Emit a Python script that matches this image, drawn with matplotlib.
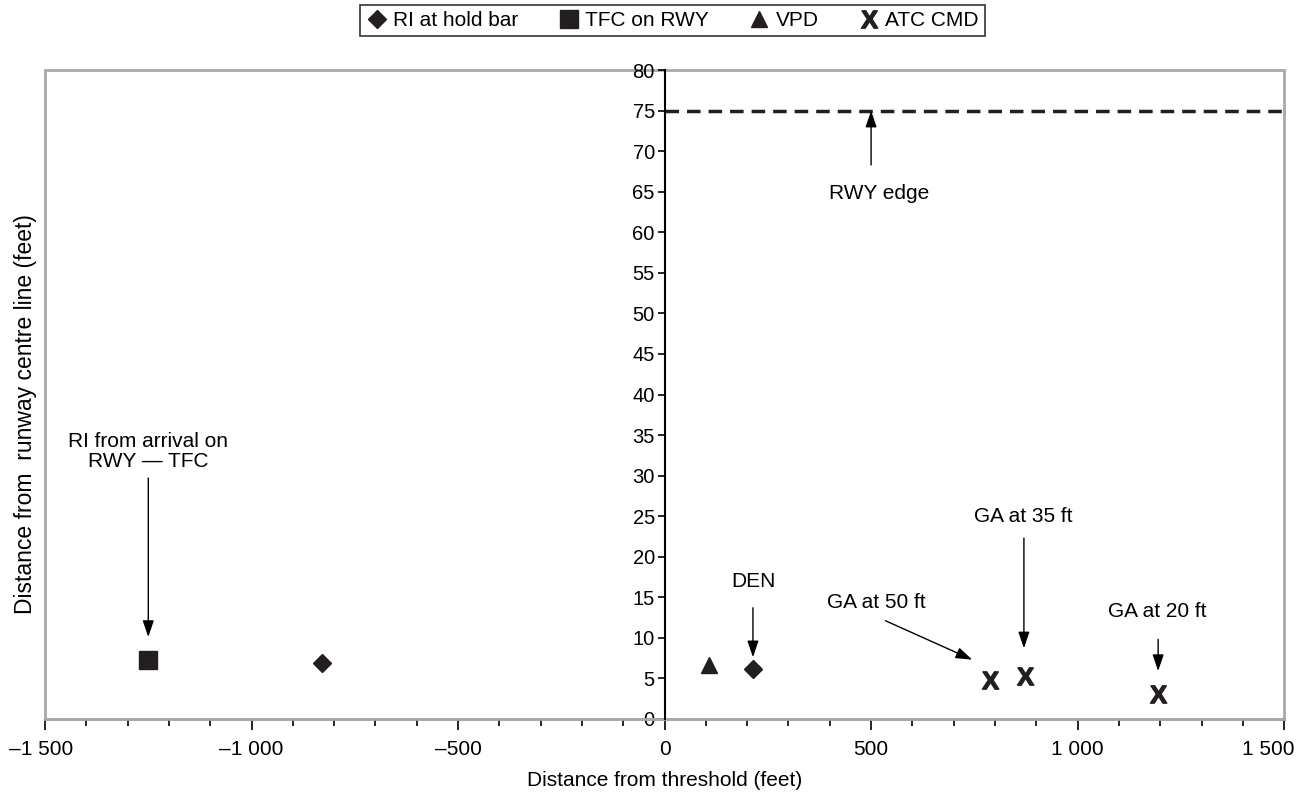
import matplotlib
matplotlib.use('Agg')
import matplotlib.pyplot as plt
from matplotlib.patches import Rectangle
from matplotlib.textpath import TextPath
from matplotlib.font_manager import FontProperties
from matplotlib.path import Path
from matplotlib.transforms import ScaledTranslation

plt.rcParams['font.family'] = ['Liberation Sans', 'DejaVu Sans']

# data
hold_x = [-830, 214]
hold_y = [6.9, 6.2]
tfc_x = [-1250]
tfc_y = [7.3]
vpd_x = [107]
vpd_y = [6.6]
atc_x = [787, 872, 1195]
atc_y = [4.8, 5.3, 3.1]

xticks = [-1500, -1000, -500, 0, 500, 1000, 1500]
xtick_labels = ['\u20131 500', '\u20131 000', '\u2013500', '0', '500', '1 000', '1 500']
yticks = list(range(0, 81, 5))

ink = '#231f20'

# "X" glyph used as a marker
tp = TextPath((0, 0), 'X', size=10,
              prop=FontProperties(family=['Liberation Sans Narrow', 'Liberation Sans'], weight='bold'))
v = tp.vertices.copy()
v[:, 0] -= (v[:, 0].min() + v[:, 0].max()) / 2
v[:, 1] -= (v[:, 1].min() + v[:, 1].max()) / 2
x_marker = Path(v, tp.codes)

fig = plt.figure(figsize=(13.05, 7.97), dpi=100)
ax = fig.add_axes([0.0345, 0.098, 0.9495, 0.814])

ax.plot(hold_x, hold_y, 'D', color=ink, ms=8.8, ls='none', label='RI at hold bar')
ax.plot(tfc_x, tfc_y, 's', color=ink, ms=12.5, ls='none', label='TFC on RWY')
ax.plot(vpd_x, vpd_y, '^', color=ink, ms=12, ls='none', label='VPD')
ax.plot(atc_x, atc_y, marker=x_marker, color=ink, ms=12.5, ls='none', label='ATC CMD')

# runway edge
ax.plot([0, 1500], [75, 75], color=ink, lw=2.5, dashes=(3.9, 2.3))

ax.set_xlim(-1500, 1500)
ax.set_ylim(0, 80)

# axes: y axis at x = 0, grey frame round the plot
for s in ['top', 'right']:
    ax.spines[s].set_visible(False)
ax.spines['left'].set_position(('data', 0))
ax.spines['left'].set_color('black')
ax.spines['left'].set_linewidth(1.5)
ax.spines['left'].set_zorder(3)
ax.spines['bottom'].set_color('#a8a8a8')
ax.spines['bottom'].set_linewidth(2)
ax.add_patch(Rectangle((0, 0), 1, 1, transform=ax.transAxes, fill=False,
                       edgecolor='#a8a8a8', lw=2, zorder=0, clip_on=False))

ax.set_xticks(xticks)
ax.set_xticklabels(xtick_labels)
ax.set_xticks(range(-1500, 1501, 100), minor=True)
ax.set_yticks(yticks)
ax.tick_params(axis='x', which='major', length=8, width=1.2, color='black', labelsize=15, pad=7)
ax.tick_params(axis='x', which='minor', length=5, width=1.2, color='black')
ax.tick_params(axis='y', length=5, width=1.2, color='black', labelsize=14.5, pad=2)

# end labels pulled inward so they fit, as in the reference
xlabels = ax.get_xticklabels()
xlabels[0].set_transform(xlabels[0].get_transform() + ScaledTranslation(-4 / 100, 0, fig.dpi_scale_trans))
xlabels[-1].set_transform(xlabels[-1].get_transform() + ScaledTranslation(-16 / 100, 0, fig.dpi_scale_trans))

ax.set_xlabel('Distance from threshold (feet)', fontsize=15)
ax.xaxis.set_label_coords(0.5, -0.08)
ax.set_ylabel('Distance from  runway centre line (feet)', fontsize=16.5)
ax.yaxis.set_label_coords(-0.0065, 0.47)

arrow = dict(arrowstyle='-|>,head_length=0.5,head_width=0.17', color='black', lw=1,
             mutation_scale=20, shrinkA=0, shrinkB=0)
fs = 15
ax.annotate('', xy=(500, 75), xytext=(500, 68.3), arrowprops=arrow)
ax.text(520, 64.8, 'RWY edge', ha='center', va='center', fontsize=fs)

ax.annotate('', xy=(-1250, 10.1), xytext=(-1250, 29.7), arrowprops=arrow)
ax.text(-1250, 33.0, 'RI from arrival on\nRWY \u2014 TFC', ha='center', va='center',
        fontsize=fs, linespacing=1.1)

ax.annotate('', xy=(214, 7.6), xytext=(214, 13.7), arrowprops=arrow)
ax.text(214, 17.0, 'DEN', ha='center', va='center', fontsize=fs)

ax.annotate('', xy=(745, 7.3), xytext=(535, 12.1), arrowprops=arrow)
ax.text(513, 14.3, 'GA at 50 ft', ha='center', va='center', fontsize=fs)

ax.annotate('', xy=(870, 8.7), xytext=(870, 22.3), arrowprops=arrow)
ax.text(868, 25.0, 'GA at 35 ft', ha='center', va='center', fontsize=fs)

ax.annotate('', xy=(1195, 5.9), xytext=(1195, 9.8), arrowprops=arrow)
ax.text(1192, 13.3, 'GA at 20 ft', ha='center', va='center', fontsize=fs)

leg = fig.legend(loc='upper center', bbox_to_anchor=(0.5153, 0.994), ncol=4,
                 fontsize=15, frameon=True, fancybox=False, edgecolor='black',
                 handlelength=1.0, handletextpad=0.3, columnspacing=1.9,
                 borderpad=0.3, borderaxespad=0, markerscale=1.0)
leg.get_frame().set_linewidth(1.2)

fig.savefig('out.png', dpi=100)
